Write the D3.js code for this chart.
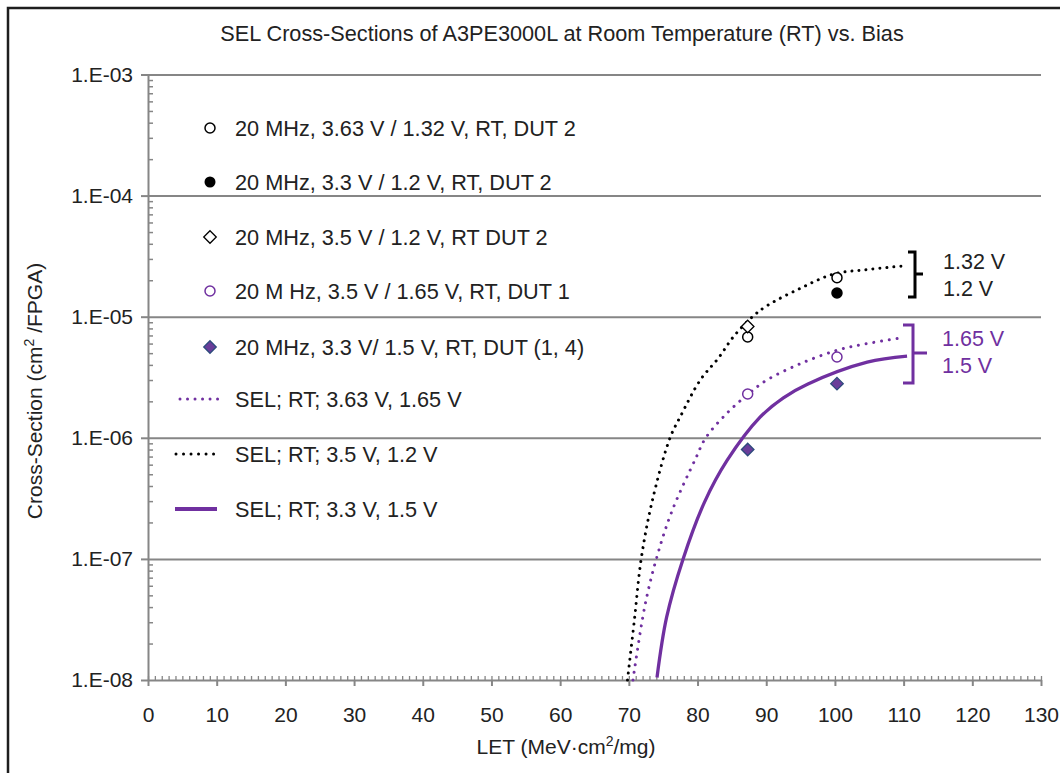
<!DOCTYPE html>
<meta charset="utf-8">
<script src="https://d3js.org/d3.v7.min.js"></script>
<style>
  body { margin: 0; background: #fff; }
  text { font-family: "Liberation Sans", Arial, sans-serif; fill: #222; }
</style>
<div id="chart"></div>
<script>
// measured points (LET, cross-section)
var open132X = [87.3, 100.3], open132Y = [6.8e-6, 2.1e-5];
var fill12X = [100.3], fill12Y = [1.57e-5];
var dia12X = [87.3], dia12Y = [8.3e-6];
var open165X = [87.3, 100.3], open165Y = [2.3e-6, 4.65e-6];
var dia15X = [87.3, 100.3], dia15Y = [8.0e-7, 2.8e-6];

// fitted curves
var fit12X = [69.8, 70.8, 71.8, 73.4, 76.0, 77.5, 80.4, 83.1, 85.2, 88.0, 90.2, 95.0, 99.8, 104.7, 109.8];
var fit12Y = [1.0e-8, 3.1e-8, 1.0e-7, 3.0e-7, 1.0e-6, 1.5e-6, 3.0e-6, 4.6e-6, 6.8e-6, 1.0e-5, 1.24e-5, 1.72e-5, 2.25e-5, 2.45e-5, 2.62e-5];
var fit165X = [70.6, 72.3, 74.0, 76.3, 79.7, 81.2, 84.3, 87.4, 90.1, 95.0, 100.4, 104.7, 109.8];
var fit165Y = [1.0e-8, 4.0e-8, 1.0e-7, 2.5e-7, 6.7e-7, 1.0e-6, 1.6e-6, 2.3e-6, 3.0e-6, 4.1e-6, 5.3e-6, 6.0e-6, 6.7e-6];
var fit15X = [74.1, 75.5, 77.9, 81.0, 84.3, 89.1, 92.5, 96.0, 104.7, 110.5];
var fit15Y = [1.05e-8, 3.3e-8, 1.0e-7, 2.93e-7, 6.5e-7, 1.48e-6, 2.14e-6, 2.77e-6, 4.21e-6, 4.72e-6];

var legendLabels = [
  "20 MHz, 3.63 V / 1.32 V, RT, DUT 2",
  "20 MHz, 3.3 V / 1.2 V, RT, DUT 2",
  "20 MHz, 3.5 V / 1.2 V, RT DUT 2",
  "20 M Hz, 3.5 V / 1.65 V, RT, DUT 1",
  "20 MHz, 3.3 V/ 1.5 V, RT, DUT (1, 4)",
  "SEL; RT; 3.63 V, 1.65 V",
  "SEL; RT; 3.5 V, 1.2 V",
  "SEL; RT; 3.3 V, 1.5 V"
];
var xTicks = [0, 10, 20, 30, 40, 50, 60, 70, 80, 90, 100, 110, 120, 130];
var yTicks = [1e-8, 1e-7, 1e-6, 1e-5, 1e-4, 1e-3];
var yTickLabels = ["1.E-08", "1.E-07", "1.E-06", "1.E-05", "1.E-04", "1.E-03"];
var bracketLabelsTop = ["1.32 V", "1.2 V"];
var bracketLabelsBottom = ["1.65 V", "1.5 V"];

var purple = "#7030a0";
var grid = "#868686";

var svg = d3.select("#chart").append("svg")
  .attr("width", 1060).attr("height", 773);

// outer frame (only top and left edges visible)
svg.append("path")
  .attr("d", "M8,773 V8 H1060")
  .attr("fill", "none").attr("stroke", "#1e1e1e").attr("stroke-width", 2.5);

var x = d3.scaleLinear().domain([0, 130]).range([148, 1041]);
var y = d3.scaleLog().domain([1e-8, 1e-3]).range([680, 74.5]);

// gridlines
svg.append("g")
  .attr("transform", "translate(148,0)")
  .call(d3.axisLeft(y).tickValues(yTicks.slice(1)).tickSize(-(1041 - 148)).tickFormat(""))
  .call(function (g) { g.select(".domain").remove(); })
  .selectAll("line").attr("stroke", grid).attr("stroke-width", 2);

// minor y ticks (inside)
svg.append("g")
  .attr("transform", "translate(148,0)")
  .call(d3.axisRight(y).tickValues(y.ticks().filter(function (d) {
    return yTicks.indexOf(d) < 0;
  })).tickSize(5).tickFormat(""))
  .call(function (g) { g.select(".domain").remove(); })
  .selectAll("line").attr("stroke", grid).attr("stroke-width", 1.5);

// y axis
var yAxis = svg.append("g")
  .attr("transform", "translate(148,0)")
  .call(d3.axisLeft(y).tickValues(yTicks).tickSize(7).tickSizeOuter(0).tickPadding(8)
    .tickFormat(function (d, i) { return yTickLabels[i]; }));
yAxis.select(".domain").attr("stroke", grid).attr("stroke-width", 2);
yAxis.selectAll("line").attr("stroke", grid).attr("stroke-width", 2);
yAxis.selectAll("text").style("font-size", "21px").attr("fill", "#222");

// minor x ticks
svg.append("g")
  .attr("transform", "translate(0,680)")
  .call(d3.axisTop(x).tickValues(d3.range(0, 131, 1)).tickSize(4).tickFormat(""))
  .call(function (g) { g.select(".domain").remove(); })
  .selectAll("line").attr("stroke", grid).attr("stroke-width", 1.3);

// x axis
var xAxis = svg.append("g")
  .attr("transform", "translate(0,680)")
  .call(d3.axisBottom(x).tickValues(xTicks).tickSize(6).tickSizeOuter(0).tickPadding(21));
xAxis.select(".domain").attr("stroke", grid).attr("stroke-width", 2);
xAxis.selectAll("line").attr("stroke", grid).attr("stroke-width", 2);
xAxis.selectAll("text").style("font-size", "21px").attr("fill", "#222");

// titles
svg.append("text").attr("x", 562).attr("y", 41).attr("text-anchor", "middle")
  .style("font-size", "21.7px").text("SEL Cross-Sections of A3PE3000L at Room Temperature (RT) vs. Bias");

var xl = svg.append("text").attr("x", 566).attr("y", 754).attr("text-anchor", "middle")
  .style("font-size", "21px");
xl.append("tspan").text("LET (MeV\u00b7cm");
xl.append("tspan").attr("dy", -8).style("font-size", "14px").text("2");
xl.append("tspan").attr("dy", 8).text("/mg)");

var yl = svg.append("text").attr("transform", "translate(42,391) rotate(-90)")
  .attr("text-anchor", "middle").style("font-size", "21px");
yl.append("tspan").text("Cross-Section (cm");
yl.append("tspan").attr("dy", -8).style("font-size", "14px").text("2");
yl.append("tspan").attr("dy", 8).text(" /FPGA)");

// curves
svg.append("clipPath").attr("id", "plot").append("rect")
  .attr("x", 148).attr("y", 74).attr("width", 893).attr("height", 608);

function curve(xs, ys) {
  return d3.line().x(function (d, i) { return x(xs[i]); })
    .y(function (d, i) { return y(ys[i]); })
    .curve(d3.curveCatmullRom.alpha(0.5))(xs);
}
var curves = svg.append("g").attr("clip-path", "url(#plot)");
curves.append("path").attr("d", curve(fit12X, fit12Y))
  .attr("fill", "none").attr("stroke", "#000").attr("stroke-width", 3)
  .attr("stroke-linecap", "round").attr("stroke-dasharray", "0.01 7");
curves.append("path").attr("d", curve(fit165X, fit165Y))
  .attr("fill", "none").attr("stroke", purple).attr("stroke-width", 3)
  .attr("stroke-linecap", "round").attr("stroke-dasharray", "0.01 7.8");
curves.append("path").attr("d", curve(fit15X, fit15Y))
  .attr("fill", "none").attr("stroke", purple).attr("stroke-width", 3.3);

// markers
function circles(xs, ys, fill, stroke) {
  svg.append("g").selectAll("circle").data(xs).join("circle")
    .attr("cx", function (d) { return x(d); })
    .attr("cy", function (d, i) { return y(ys[i]); })
    .attr("r", 5).attr("fill", fill).attr("stroke", stroke).attr("stroke-width", 1.5);
}
function diamonds(xs, ys, fill, stroke) {
  svg.append("g").selectAll("path").data(xs).join("path")
    .attr("d", d3.symbol(d3.symbolDiamond2, 100))
    .attr("transform", function (d, i) { return "translate(" + x(d) + "," + y(ys[i]) + ")"; })
    .attr("fill", fill).attr("stroke", stroke).attr("stroke-width", 1.3);
}
circles(open132X, open132Y, "#fff", "#000");
circles(fill12X, fill12Y, "#000", "#000");
diamonds(dia12X, dia12Y, "#fff", "#000");
circles(open165X, open165Y, "#fff", purple);
diamonds(dia15X, dia15Y, "#6a3d9a", "#2c4a7c");

// legend
var rowY = [128, 182, 237, 291, 347, 399, 454, 509];
var leg = svg.append("g");
leg.selectAll("text").data(legendLabels).join("text")
  .attr("x", 235).attr("y", function (d, i) { return rowY[i] + 7.5; })
  .style("font-size", "21.7px").text(function (d) { return d; });
leg.append("circle").attr("cx", 210).attr("cy", rowY[0]).attr("r", 5)
  .attr("fill", "#fff").attr("stroke", "#000").attr("stroke-width", 1.5);
leg.append("circle").attr("cx", 210).attr("cy", rowY[1]).attr("r", 5.5)
  .attr("fill", "#000");
leg.append("path").attr("d", d3.symbol(d3.symbolDiamond2, 100))
  .attr("transform", "translate(210," + rowY[2] + ")")
  .attr("fill", "#fff").attr("stroke", "#000").attr("stroke-width", 1.3);
leg.append("circle").attr("cx", 210).attr("cy", rowY[3]).attr("r", 5)
  .attr("fill", "#fff").attr("stroke", purple).attr("stroke-width", 1.5);
leg.append("path").attr("d", d3.symbol(d3.symbolDiamond2, 100))
  .attr("transform", "translate(210," + rowY[4] + ")")
  .attr("fill", "#6a3d9a").attr("stroke", "#2c4a7c").attr("stroke-width", 1.3);
leg.append("line").attr("x1", 180).attr("x2", 218).attr("y1", rowY[5]).attr("y2", rowY[5])
  .attr("stroke", purple).attr("stroke-width", 3).attr("stroke-linecap", "round")
  .attr("stroke-dasharray", "0.01 7.5");
leg.append("line").attr("x1", 176).attr("x2", 214).attr("y1", rowY[6]).attr("y2", rowY[6])
  .attr("stroke", "#000").attr("stroke-width", 3).attr("stroke-linecap", "round")
  .attr("stroke-dasharray", "0.01 7.5");
leg.append("line").attr("x1", 175).attr("x2", 217).attr("y1", rowY[7]).attr("y2", rowY[7])
  .attr("stroke", purple).attr("stroke-width", 4);

// brackets
svg.append("path").attr("d", "M908,252 H915 V297 H908 M915,274 H923")
  .attr("fill", "none").attr("stroke", "#000").attr("stroke-width", 3);
svg.append("path").attr("d", "M903,325 H913 V383 H903 M913,353 H927")
  .attr("fill", "none").attr("stroke", purple).attr("stroke-width", 3);
svg.selectAll(".bt").data(bracketLabelsTop).join("text").attr("class", "bt")
  .attr("x", 943).attr("y", function (d, i) { return 269 + i * 27; })
  .style("font-size", "21.5px").text(function (d) { return d; });
svg.selectAll(".bb").data(bracketLabelsBottom).join("text").attr("class", "bb")
  .attr("x", 942).attr("y", function (d, i) { return 346 + i * 27; })
  .style("font-size", "21.5px").style("fill", purple)
  .text(function (d) { return d; });
</script>
